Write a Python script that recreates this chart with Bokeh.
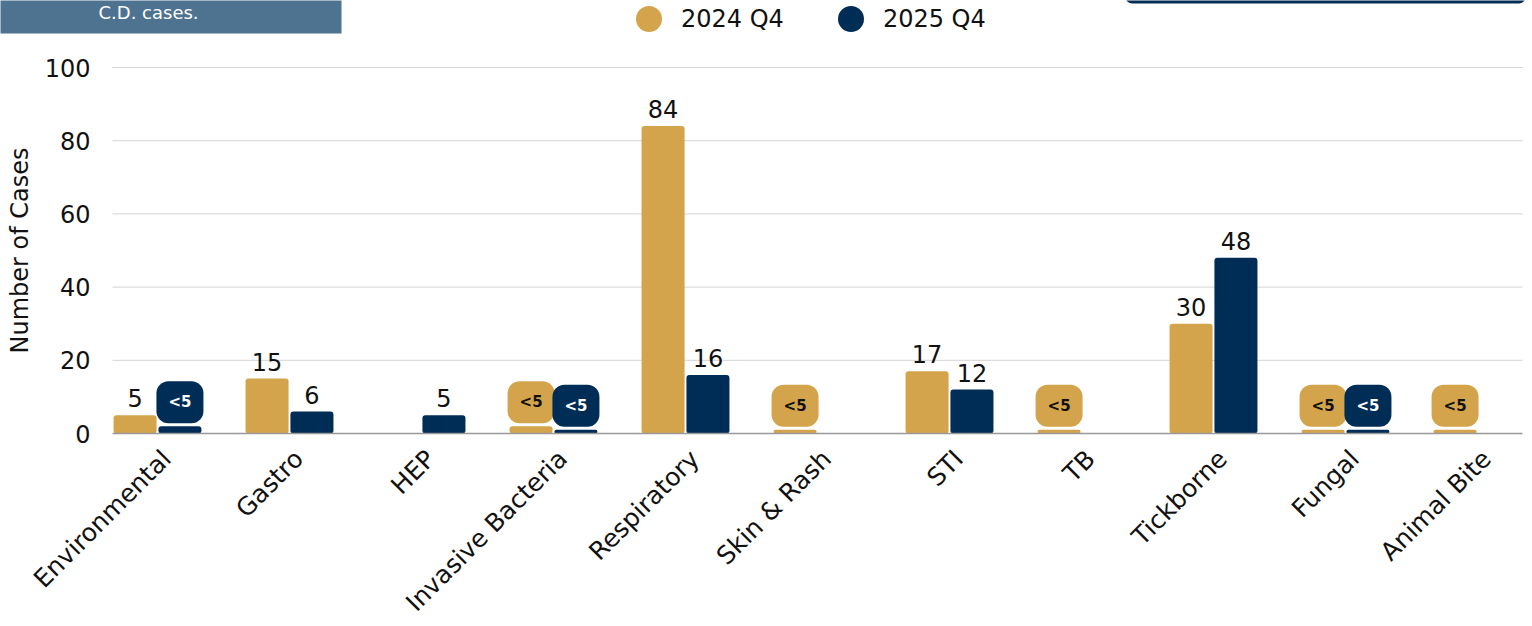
import math
from bokeh.plotting import figure
from bokeh.models import (ColumnDataSource, Range1d, FixedTicker, Legend, LegendItem, Label,
                          BoxAnnotation)
from bokeh.transform import dodge
from bokeh.core.properties import value
from bokeh.embed import file_html
from bokeh.resources import INLINE

categories = ["Environmental", "Gastro", "HEP", "Invasive Bacteria", "Respiratory",
              "Skin & Rash", "STI", "TB", "Tickborne", "Fungal", "Animal Bite"]
q4_2024 = [5, 15, 0, 2, 84, 1, 17, 1, 30, 1, 1]
q4_2025 = [2, 6, 5, 1, 16, 0, 12, 0, 48, 1, 0]
series_names = ["2024 Q4", "2025 Q4"]
y_ticks = [0, 20, 40, 60, 80, 100]
header_text = "C.D. cases."

GOLD = "#D4A44C"
NAVY = "#002D56"
HEADER = "#4E7391"
FONT = "DejaVu Sans"
TXT = "#111111"

# ---- canvas geometry (pixels) ----
W, H = 1526, 622
PX_PER_X = 132.0          # pixels per category step
X0_PX = 157.0             # pixel position of first category centre
PX_PER_Y = 3.66           # pixels per case
Y0_PX = 433.0             # pixel position of value 0
PLOT_L_PX, PLOT_R_PX = 112.0, 1522.0


def px2x(px):
    return (px - X0_PX) / PX_PER_X


def py2y(py):
    return (Y0_PX - py) / PX_PER_Y


x_lo, x_hi = px2x(PLOT_L_PX), px2x(PLOT_R_PX)

idx = list(range(len(categories)))
src = ColumnDataSource(dict(x=idx, a=q4_2024, b=q4_2025))


def label_src(vals):
    xs, ys, ts = [], [], []
    for i, v in zip(idx, vals):
        if v >= 5:
            xs.append(i); ys.append(v); ts.append(str(v))
    return ColumnDataSource(dict(x=xs, y=ys, t=ts))


def badge_src(vals):
    xs, ys, ts = [], [], []
    for i, v in zip(idx, vals):
        if 0 < v < 5:
            xs.append(i); ys.append(v); ts.append("<5")
    return ColumnDataSource(dict(x=xs, y=ys, t=ts))


p = figure(width=W, height=H, output_backend="svg", toolbar_location=None,
           x_range=Range1d(px2x(0), px2x(W)), y_range=Range1d(py2y(H), py2y(0)),
           min_border=0, min_border_left=0, min_border_right=0,
           min_border_top=0, min_border_bottom=0)
p.outline_line_color = None
p.background_fill_color = "white"
p.grid.visible = False

# horizontal grid lines limited to the plotting area
grid_y = y_ticks[1:]
p.segment(x0=[x_lo] * len(grid_y), x1=[x_hi] * len(grid_y), y0=grid_y, y1=grid_y,
          line_color="#d4d4d4", line_width=1)

off = 0.17
w = 0.326
p.vbar(x=dodge("x", -off), top="a", width=w, source=src, fill_color=GOLD, line_color=None,
       border_radius=3)
p.vbar(x=dodge("x", off), top="b", width=w, source=src, fill_color=NAVY, line_color=None,
       border_radius=3)

# value labels
for vals, dx in ((q4_2024, -off), (q4_2025, off)):
    p.text(x=dodge("x", dx), y="y", text="t", source=label_src(vals), text_align="center",
           text_baseline="middle", y_offset=-17, text_font=value(FONT),
           text_font_size="24px", text_color=TXT)

# "<5" badges
for vals, dx, bg, fg in ((q4_2024, -off, GOLD, TXT), (q4_2025, off, NAVY, "white")):
    p.text(x=dodge("x", dx), y="y", text="t", source=badge_src(vals), text_align="center",
           text_baseline="middle", y_offset=-24, text_font=value(FONT),
           text_font_size="15px", text_font_style="bold", text_color=fg,
           background_fill_color=bg, padding=12, border_radius=12)

# y axis (drawn inside the canvas at the plot's left edge)
ya = p.yaxis[0]
ya.fixed_location = x_lo
ya.bounds = (0, 100)
ya.ticker = FixedTicker(ticks=y_ticks)
ya.axis_line_color = None
ya.major_tick_line_color = None
ya.minor_tick_line_color = None
ya.major_label_standoff = 16
ya.major_label_text_font = FONT
ya.major_label_text_font_size = "24px"
ya.major_label_text_color = TXT
ya.axis_label = "Number of Cases"
ya.axis_label_text_font = FONT
ya.axis_label_text_font_size = "24px"
ya.axis_label_text_font_style = "normal"
ya.axis_label_text_color = TXT
ya.axis_label_standoff = 8

# x axis at value 0
label_shift = 0.07
x_ticks = [i + label_shift for i in idx]
xa = p.xaxis[0]
xa.fixed_location = 0
xa.bounds = (x_lo, x_hi)
xa.ticker = FixedTicker(ticks=x_ticks)
xa.major_label_overrides = {t: c for t, c in zip(x_ticks, categories)}
xa.major_label_orientation = math.pi / 4
xa.major_label_standoff = 15
xa.major_label_text_font = FONT
xa.major_label_text_font_size = "25px"
xa.major_label_text_color = TXT
xa.major_tick_line_color = None
xa.minor_tick_line_color = None
xa.axis_line_color = "#999999"
xa.axis_line_width = 1.5

# header box and top-right strip
p.add_layout(BoxAnnotation(left=px2x(-5), right=px2x(341), top=py2y(-10), bottom=py2y(33),
                           fill_color=HEADER, fill_alpha=1, line_color=None))
p.add_layout(BoxAnnotation(left=px2x(1125), right=px2x(1525), top=py2y(-10), bottom=py2y(3),
                           fill_color=NAVY, fill_alpha=1, line_color=None, border_radius=8))
p.add_layout(Label(x=px2x(98), y=py2y(12), text=header_text, text_font=FONT,
                   text_font_size="18px", text_color="white",
                   text_baseline="middle", text_align="left"))

# legend (circle markers); NaN points keep the renderers non-empty but invisible
nan_src = ColumnDataSource(dict(x=[float("nan")], y=[float("nan")]))
r1 = p.scatter(x="x", y="y", source=nan_src, marker="circle", fill_color=GOLD, line_color=None)
r2 = p.scatter(x="x", y="y", source=nan_src, marker="circle", fill_color=NAVY, line_color=None)
legend = Legend(items=[LegendItem(label=series_names[0], renderers=[r1]),
                       LegendItem(label=series_names[1], renderers=[r2])],
                orientation="horizontal", location=(616, H - 51),
                glyph_width=65, glyph_height=65, label_standoff=0, spacing=34,
                label_text_font=FONT, label_text_font_size="24px", label_text_color=TXT,
                padding=0, margin=0, border_line_alpha=0, background_fill_alpha=0)
p.add_layout(legend, "center")

open("out.html", "w").write(file_html(p, INLINE))
